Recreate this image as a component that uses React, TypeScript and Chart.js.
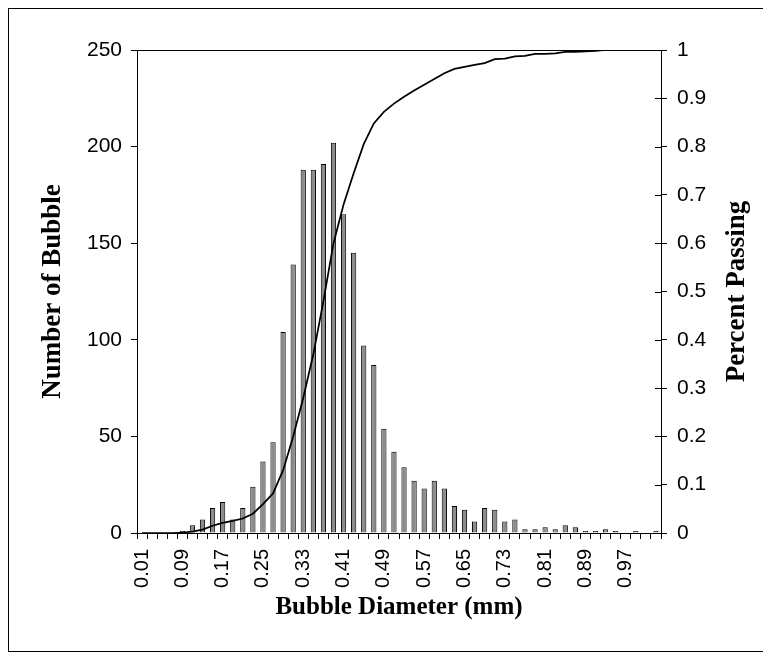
import React, { useEffect, useRef } from 'react';
import { Chart, registerables } from 'chart.js';

Chart.register(...registerables);

const diameterLabels = [
  '0.01', '0.03', '0.05', '0.07', '0.09', '0.11', '0.13', '0.15', '0.17', '0.19',
  '0.21', '0.23', '0.25', '0.27', '0.29', '0.31', '0.33', '0.35', '0.37', '0.39',
  '0.41', '0.43', '0.45', '0.47', '0.49', '0.51', '0.53', '0.55', '0.57', '0.59',
  '0.61', '0.63', '0.65', '0.67', '0.69', '0.71', '0.73', '0.75', '0.77', '0.79',
  '0.81', '0.83', '0.85', '0.87', '0.89', '0.91', '0.93', '0.95', '0.97', '0.99',
  '1.01', '1.03',
];

const bubbleCounts = [
  0, 0, 0, 0, 1, 4, 7, 13, 16, 7,
  13, 24, 37, 47, 104, 139, 188, 188, 191, 202,
  165, 145, 97, 87, 54, 42, 34, 27, 23, 27,
  23, 14, 12, 6, 13, 12, 6, 7, 2, 2,
  3, 2, 4, 3, 1, 1, 2, 1, 0, 1,
  0, 1,
];

const percentPassing = [
  0, 0, 0, 0, 0.001, 0.003, 0.007, 0.015, 0.021, 0.025,
  0.03, 0.04, 0.06, 0.082, 0.13, 0.2, 0.28, 0.37, 0.48, 0.6,
  0.68, 0.745, 0.805, 0.848, 0.872, 0.889, 0.903, 0.916, 0.928, 0.94,
  0.952, 0.961, 0.965, 0.969, 0.973, 0.981, 0.982, 0.987, 0.988, 0.992,
  0.992, 0.993, 0.996, 0.996, 0.997, 0.998, 1, 1, 1, 1,
  1, 1,
];

const labelEvery = 4;
const leftTitle = 'Number of Bubble';
const rightTitle = 'Percent Passing';
const bottomTitle = 'Bubble Diameter (mm)';

const xTickFont = { family: '"Liberation Sans", Arial, sans-serif', size: 20 };
const yTickFont = { family: '"Liberation Sans", Arial, sans-serif', size: 21 };
const titleFamily = '"Liberation Serif", "Times New Roman", serif';

const decorations = {
  id: 'decorations',
  afterDraw(chart: any) {
    const { ctx, chartArea } = chart;
    const y1 = chart.scales.y1;
    ctx.save();
    ctx.strokeStyle = '#000';
    ctx.lineWidth = 1;
    ctx.beginPath();
    ctx.moveTo(chartArea.left, Math.round(chartArea.top) + 0.5);
    ctx.lineTo(chartArea.right, Math.round(chartArea.top) + 0.5);
    ctx.stroke();
    y1.ticks.forEach((t: any) => {
      const py = Math.round(y1.getPixelForValue(t.value)) + 0.5;
      ctx.beginPath();
      ctx.moveTo(chartArea.right - 6, py);
      ctx.lineTo(chartArea.right, py);
      ctx.stroke();
    });
    ctx.fillStyle = '#000';
    ctx.textAlign = 'center';
    ctx.textBaseline = 'middle';
    const cy = (chartArea.top + chartArea.bottom) / 2;
    ctx.font = `bold 27px ${titleFamily}`;
    ctx.save();
    ctx.translate(44, cy);
    ctx.rotate(-Math.PI / 2);
    ctx.fillText(leftTitle, 0, 0);
    ctx.restore();
    ctx.save();
    ctx.translate(728, cy);
    ctx.rotate(-Math.PI / 2);
    ctx.fillText(rightTitle, 0, 0);
    ctx.restore();
    ctx.font = `bold 25px ${titleFamily}`;
    ctx.fillText(bottomTitle, (chartArea.left + chartArea.right) / 2, 599);
    ctx.restore();
  },
};

export default function App() {
  const canvasRef = useRef<HTMLCanvasElement | null>(null);

  useEffect(() => {
    if (!canvasRef.current) return;
    const chart = new Chart(canvasRef.current, {
      type: 'bar',
      data: {
        labels: diameterLabels,
        datasets: [
          {
            type: 'line',
            label: 'Percent Passing',
            data: percentPassing,
            yAxisID: 'y1',
            borderColor: '#000',
            borderWidth: 1.75,
            pointRadius: 0,
            tension: 0,
            fill: false,
            order: 0,
          } as any,
          {
            type: 'bar',
            label: 'Number of Bubble',
            data: bubbleCounts,
            yAxisID: 'y',
            backgroundColor: '#8c8c8c',
            borderColor: '#000',
            borderWidth: 1,
            barPercentage: 0.52,
            categoryPercentage: 1,
            order: 1,
          } as any,
        ],
      },
      options: {
        responsive: false,
        animation: false,
        layout: { padding: { top: 41, left: 0, right: 0, bottom: 0 } },
        plugins: { legend: { display: false }, tooltip: { enabled: false } },
        scales: {
          x: {
            grid: { display: true, drawOnChartArea: false, drawTicks: true, tickLength: 6, tickColor: '#000', offset: true },
            border: { display: true, color: '#000', width: 1 },
            ticks: {
              autoSkip: false,
              minRotation: 90,
              maxRotation: 90,
              padding: 10,
              color: '#000',
              font: xTickFont,
              callback: (_v: any, i: number) => (i % labelEvery === 0 ? diameterLabels[i] : ''),
            },
            afterFit: (s: any) => { s.height = 118; },
          },
          y: {
            position: 'left',
            min: 0,
            max: 250,
            grid: { display: true, drawOnChartArea: false, drawTicks: true, tickLength: 6, tickColor: '#000' },
            border: { display: true, color: '#000', width: 1 },
            ticks: { stepSize: 50, padding: 9, color: '#000', font: yTickFont },
            afterFit: (s: any) => { s.width = 128; },
          },
          y1: {
            position: 'right',
            min: 0,
            max: 1,
            grid: { display: true, drawOnChartArea: false, drawTicks: true, tickLength: 6, tickColor: '#000' },
            border: { display: true, color: '#000', width: 1 },
            ticks: {
              stepSize: 0.1,
              padding: 10,
              color: '#000',
              font: yTickFont,
              callback: (v: any) => String(Math.round(Number(v) * 10) / 10),
            },
            afterFit: (s: any) => { s.width = 102; },
          },
        },
      } as any,
      plugins: [decorations],
    });
    return () => chart.destroy();
  }, []);

  return (
    <div style={{ width: 754, height: 642, border: '1px solid #000', background: '#fff' }}>
      <canvas ref={canvasRef} width={754} height={642} style={{ display: 'block' }} />
    </div>
  );
}
